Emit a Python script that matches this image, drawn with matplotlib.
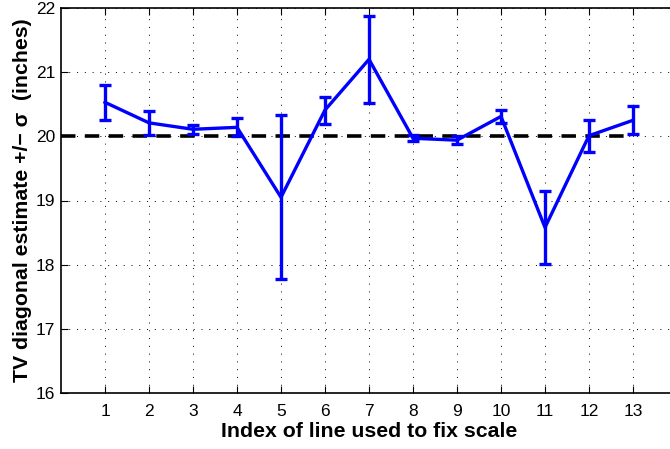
import matplotlib
matplotlib.use('Agg')
import matplotlib.pyplot as plt

plt.rcParams['font.family'] = ['Liberation Sans', 'DejaVu Sans']

idx = [1, 2, 3, 4, 5, 6, 7, 8, 9, 10, 11, 12, 13]
estimate = [20.53, 20.21, 20.11, 20.14, 19.05, 20.41, 21.20, 19.97, 19.94, 20.31, 18.58, 20.01, 20.25]
sigma = [0.27, 0.19, 0.07, 0.14, 1.28, 0.21, 0.68, 0.05, 0.06, 0.10, 0.57, 0.25, 0.22]
true_value = 20.0
ref_x = [0, 13]

fig = plt.figure(figsize=(6.70, 4.49), dpi=100)
ax = fig.add_axes([61 / 670, 56 / 449, 616 / 670, 385 / 449])

ax.plot(ref_x, [true_value, true_value], color='k', linestyle='--', linewidth=2.6,
        dashes=(4, 2.6), zorder=3)
ax.errorbar(idx, estimate, yerr=sigma, color='#0000ff', linewidth=2.4,
            elinewidth=2.4, capsize=4, capthick=2.4, zorder=4)

ax.set_xlim(0, 14)
ax.set_ylim(16, 22)
ax.set_xticks(idx)
ax.set_yticks([16, 17, 18, 19, 20, 21, 22])
ax.grid(True, color='k', linestyle=(0, (1, 7)), linewidth=0.7)
ax.tick_params(direction='in', length=5, width=0.8, labelsize=12.5, top=True)
ax.tick_params(axis='x', pad=8)
ax.tick_params(axis='y', pad=4)
ax.spines['right'].set_visible(False)
for s in ['left', 'bottom', 'top']:
    ax.spines[s].set_linewidth(1.2)

ax.set_xlabel('Index of line used to fix scale', fontsize=15.3, fontweight='bold', labelpad=2)
ax.set_ylabel('TV diagonal estimate +/\u2212 \u03c3  (inches)', fontsize=15.3,
              fontweight='bold', labelpad=3)

fig.savefig('out.png', dpi=100)
